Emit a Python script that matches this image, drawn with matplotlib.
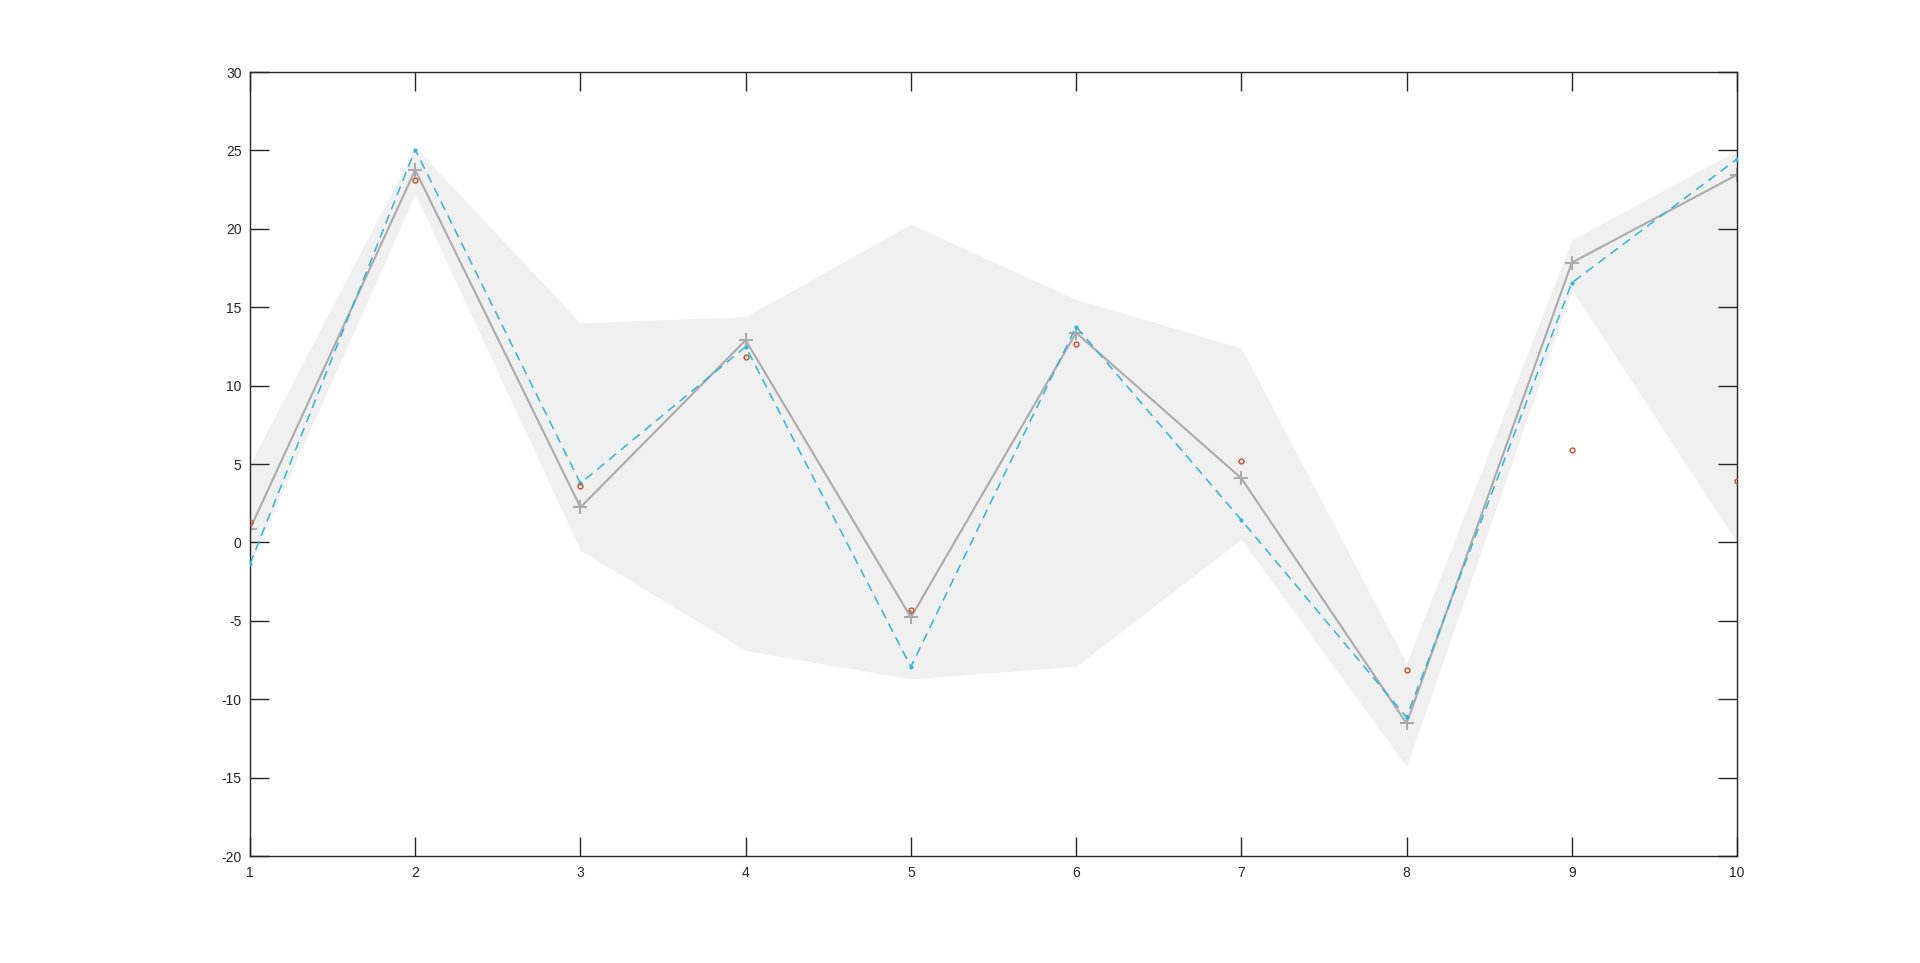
import numpy as np
import matplotlib.pyplot as plt

# data
x = np.arange(1, 11)
band_upper = [5.0, 25.2, 14.0, 14.4, 20.3, 15.5, 12.4, -7.7, 19.3, 25.0]
band_lower = [-1.4, 22.2, -0.5, -6.9, -8.7, -7.9, 0.2, -14.3, 16.1, 0.0]
mean_line = [0.85, 23.75, 2.24, 12.9, -4.78, 13.37, 4.09, -11.54, 17.84, 23.45]
fit_line = [-1.38, 25.05, 3.77, 12.48, -7.93, 13.76, 1.43, -11.15, 16.56, 24.45]
observed = [1.32, 23.11, 3.6, 11.8, -4.31, 12.63, 5.2, -8.16, 5.9, 3.9]

plt.rcParams['font.family'] = ['Liberation Sans', 'DejaVu Sans']
plt.rcParams['axes.unicode_minus'] = False

fig = plt.figure(figsize=(19.2, 9.63), dpi=100)
ax = fig.add_axes([0.1302, 0.1111, 0.7745, 0.8141])

# shaded interval
ax.fill_between(x, band_lower, band_upper, color='#f0f0f0', linewidth=0, zorder=1)

# mean line with + markers
ax.plot(x, mean_line, '-', color='#ababab', linewidth=1.5, marker='+',
        markersize=10, markeredgewidth=1.5, zorder=2)

# dashed fit line with small dots
ax.plot(x, fit_line, '--', color='#2fb5dc', linewidth=1.1, dashes=(6, 4),
        marker='.', markersize=4, zorder=3)

# observed points
ax.plot(x, observed, 'o', color='#c0502a', markerfacecolor='none',
        markersize=3.5, markeredgewidth=1.0, linestyle='none', zorder=4)

ax.set_xlim(1, 10)
ax.set_ylim(-20, 30)
ax.set_xticks(x)
ax.set_yticks(np.arange(-20, 31, 5))

axis_col = '#262626'
for s in ax.spines.values():
    s.set_color(axis_col)
    s.set_linewidth(1.0)
ax.tick_params(direction='in', length=14, width=1.0, color=axis_col,
               labelcolor=axis_col, labelsize=10, top=True, right=True)
ax.tick_params(axis='x', pad=7)
ax.tick_params(axis='y', pad=6)

fig.savefig('out.png', dpi=100, facecolor='white')
